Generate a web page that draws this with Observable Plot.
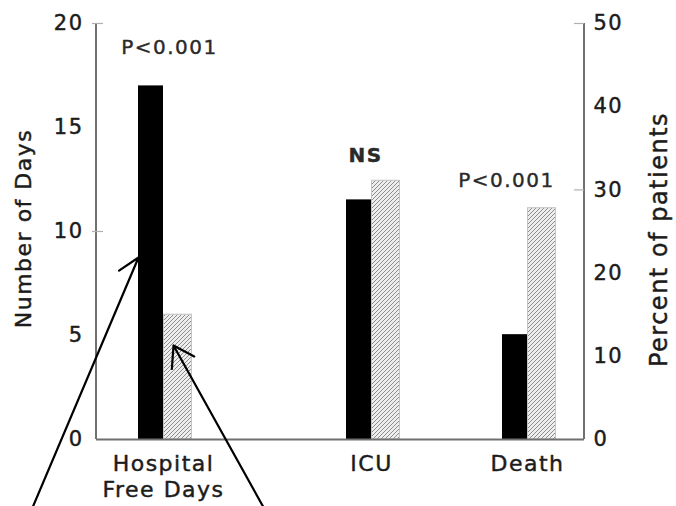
<!DOCTYPE html>
<html><head><meta charset="utf-8">
<script src="https://cdn.jsdelivr.net/npm/d3@7"></script>
<script src="https://cdn.jsdelivr.net/npm/@observablehq/plot@0.6"></script>
<style>
html,body{margin:0;padding:0;background:#fff;overflow:hidden}
#chart svg{display:block}
#chart text{letter-spacing:1.5px}
</style>
</head><body>
<svg width="0" height="0" style="position:absolute">
<defs>
<pattern id="hatch" width="4" height="4" patternUnits="userSpaceOnUse">
<rect width="4" height="4" fill="#eeeeee"/>
<path d="M-1,1 l2,-2 M0,4 l4,-4 M3,5 l2,-2" stroke="#8c8c8c" stroke-width="1"/>
</pattern>
</defs>
</svg>
<div id="chart"></div>
<script>
// ---- data ----
const categories = ["Hospital Free Days", "ICU", "Death"];
const categoryLabels = ["Hospital\nFree Days", "ICU", "Death"];
const units = ["days", "percent", "percent"];
const groupBlack = [17.0, 28.8, 12.6];
const groupHatched = [6.0, 31.1, 27.8];
const pLabels = ["P<0.001", "NS", "P<0.001"];
const leftTicks = [0, 5, 10, 15, 20];
const rightTicks = [0, 10, 20, 30, 40, 50];
const leftTickMarks = [10, 20];
const rightTickMarks = [30, 50];
const daysMax = 20, pctMax = 50;

// ---- layout helpers ----
const toDays = (v, unit) => unit === "percent" ? v * daysMax / pctMax : v;
const preSlots = 5, gaps = [6, 4];
const slots = [];
for (let i = 0; i < preSlots; i++) slots.push("pre" + i);
categories.forEach((c, i) => {
  slots.push(c + "|a", c + "|b");
  if (i < gaps.length) for (let g = 0; g < gaps[i]; g++) slots.push(c + "|gap" + g);
});

const rows = categories.map((c, i) => ({
  cat: c,
  label: categoryLabels[i],
  p: pLabels[i],
  black: toDays(groupBlack[i], units[i]),
  hatched: toDays(groupHatched[i], units[i])
}));

// annotation arrows in data space (slot, days)
const arrow1 = [{x1: "pre0", y1: -6.0, x2: categories[0] + "|a", y2: 8.75}];
const arrow2 = [{x1: categories[0] + "|gap3", y1: -4.47, x2: categories[0] + "|b", y2: 4.52}];

const pNudge = [[-7, -38], [-19, -25], [-34, -28]];
const axisColor = "#707070";
const textColor = "#1c1c1c";
const heavy = {stroke: textColor, strokeWidth: 0.45};
const W = 676, mL = 96, mR = 92, frameW = W - mL - mR;

const marks = [
  Plot.barY(rows, {x: d => d.cat + "|a", y: "black", fill: "black", insetLeft: 1, insetRight: 0}),
  Plot.barY(rows, {x: d => d.cat + "|b", y: "hatched", fill: "url(#hatch)", stroke: "#c4c4c4", strokeWidth: 1, insetLeft: 0.5, insetRight: -2.5}),
  // axis lines
  Plot.rect([0], {y1: 0, y2: daysMax, insetLeft: -1, insetRight: frameW - 1, fill: axisColor}),
  Plot.rect([0], {y1: 0, y2: daysMax, insetLeft: frameW - 1, insetRight: -1, fill: axisColor}),
  Plot.ruleY([0], {stroke: axisColor, strokeWidth: 2}),
  // tick marks
  Plot.tickY(leftTickMarks, {y: d => d, insetLeft: -4, insetRight: frameW - 7, stroke: "#b0b0b0", strokeWidth: 1.2}),
  Plot.tickY(rightTickMarks.map(v => toDays(v, "percent")), {y: d => d, insetLeft: frameW - 10, insetRight: 0, stroke: "#b0b0b0", strokeWidth: 1.2}),
  // tick labels
  Plot.text(leftTicks, {y: d => d, text: d => String(d), frameAnchor: "left", textAnchor: "end", dx: -13, fontSize: 21, fill: textColor, ...heavy}),
  Plot.text(rightTicks, {y: d => toDays(d, "percent"), text: d => String(d), frameAnchor: "right", textAnchor: "start", dx: 9, fontSize: 21, fill: textColor, ...heavy}),
  // axis titles
  Plot.text(["Number of Days"], {frameAnchor: "left", textAnchor: "middle", rotate: -90, dx: -73, dy: -3, fontSize: 22, fill: textColor, ...heavy}),
  Plot.text(["Percent of patients"], {frameAnchor: "right", textAnchor: "middle", rotate: -90, dx: 75, dy: 8, fontSize: 24, fill: textColor, ...heavy}),
  // category labels
  Plot.text(rows, {x: d => d.cat + "|b", y: 0, text: "label", dx: -13, dy: 12, lineAnchor: "top", lineHeight: 1.22, fontSize: 22, fill: textColor, ...heavy}),
  // p-value labels
  ...rows.map((r, i) => Plot.text([r], {x: d => d.cat + "|b", y: d => Math.max(d.black, d.hatched), text: "p", dx: pNudge[i][0], dy: pNudge[i][1], fontSize: 20, fontWeight: r.p === "NS" ? "bold" : "normal", fill: "#2a2a2a", stroke: "#2a2a2a", strokeWidth: 0.4})),
  // arrows
  Plot.arrow(arrow1, {x1: "x1", y1: "y1", x2: "x2", y2: "y2", dx: -12, stroke: "black", strokeWidth: 2.2, headLength: 16, headAngle: 66}),
  Plot.arrow(arrow2, {x1: "x1", y1: "y1", x2: "x2", y2: "y2", dx: -3, stroke: "black", strokeWidth: 2.2, headLength: 16, headAngle: 66})
];

const chart = Plot.plot({
  width: W,
  height: 506,
  marginLeft: mL,
  marginRight: mR,
  marginTop: 23,
  marginBottom: 67,
  style: {fontFamily: "DejaVu Sans", fontSize: "20px", background: "white", overflow: "hidden"},
  x: {type: "band", domain: slots, range: [7, 553], padding: 0, round: false, axis: null},
  y: {domain: [0, daysMax], axis: null},
  marks
});
document.getElementById("chart").appendChild(chart);
</script>
</body></html>
